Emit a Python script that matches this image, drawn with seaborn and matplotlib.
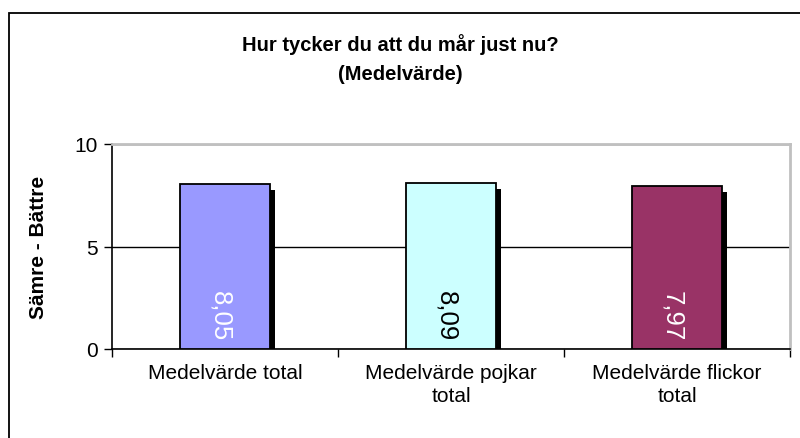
import matplotlib
matplotlib.use('Agg')
import matplotlib.pyplot as plt
import matplotlib.patheffects as pe
from matplotlib.patches import Rectangle
import seaborn as sns
import pandas as pd

categories = ['Medelvärde total', 'Medelvärde pojkar\ntotal', 'Medelvärde flickor\ntotal']
values = [8.05, 8.09, 7.97]
labels = ['8,05', '8,09', '7,97']
colors = ['#9999FF', '#CCFFFF', '#993366']
label_colors = ['white', 'black', 'white']

sns.set_style('white')
plt.rcParams['font.family'] = ['Liberation Sans', 'DejaVu Sans']
plt.rcParams['text.color'] = 'black'
plt.rcParams['axes.labelcolor'] = 'black'
plt.rcParams['xtick.labelcolor'] = 'black'
plt.rcParams['ytick.labelcolor'] = 'black'

df = pd.DataFrame({'kategori': categories, 'varde': values})

fig = plt.figure(figsize=(8, 4.39), dpi=100)
ax = fig.add_axes([112 / 800, 1 - 350 / 439, 678 / 800, 205 / 439])

sns.barplot(data=df, x='kategori', y='varde', hue='kategori', palette=colors, saturation=1,
            width=0.4, edgecolor='black', linewidth=1.3, legend=False, ax=ax)

# Excel-style drop shadow on the bars
for patch in ax.patches:
    patch.set_path_effects([pe.SimplePatchShadow(offset=(3.6, -4.3), shadow_rgbFace='black', alpha=1.0),
                            pe.Normal()])
    patch.set_zorder(3)

for i, (v, lab) in enumerate(zip(values, labels)):
    ax.text(i - 0.02, 0.45, lab, rotation=-90, ha='center', va='bottom',
            fontsize=18.5, color=label_colors[i], zorder=5)

ax.set_ylim(0, 10)
ax.set_xlim(-0.5, 2.5)
ax.set_yticks([0, 5, 10])
ax.tick_params(axis='y', direction='out', length=6, width=1, color='black', labelsize=15, pad=4, left=True)
ax.set_xticks(range(len(categories)))
ax.set_xticklabels(categories, fontsize=15, linespacing=1.25)
ax.tick_params(axis='x', which='major', length=0, pad=10)
ax.set_xticks([-0.5, 0.5, 1.5, 2.5], minor=True)
ax.tick_params(axis='x', which='minor', direction='out', length=6, width=1, color='black', bottom=True)

ax.yaxis.grid(True, color='black', linewidth=1)
ax.set_axisbelow(True)
for side in ['left', 'bottom']:
    ax.spines[side].set_color('black')
    ax.spines[side].set_linewidth(1.2)
for side in ['top', 'right']:
    ax.spines[side].set_color('#C0C0C0')
    ax.spines[side].set_linewidth(2)
    ax.spines[side].set_visible(True)

ax.set_xlabel('')
ax.set_ylabel('Sämre - Bättre', fontsize=15, fontweight='bold')
ax.yaxis.set_label_coords(-0.094, 0.5)

fig.text(0.5, 1 - 45 / 439, 'Hur tycker du att du mår just nu?', ha='center', va='center',
         fontsize=14.5, fontweight='bold')
fig.text(0.5, 1 - 74 / 439, '(Medelvärde)', ha='center', va='center',
         fontsize=14.5, fontweight='bold')

fig.patches.append(Rectangle((9 / 800, -0.05), 1.2, 1 - 14 / 439 + 0.05, transform=fig.transFigure,
                             fill=False, edgecolor='black', linewidth=1.3))

fig.savefig('out.png', dpi=100)
